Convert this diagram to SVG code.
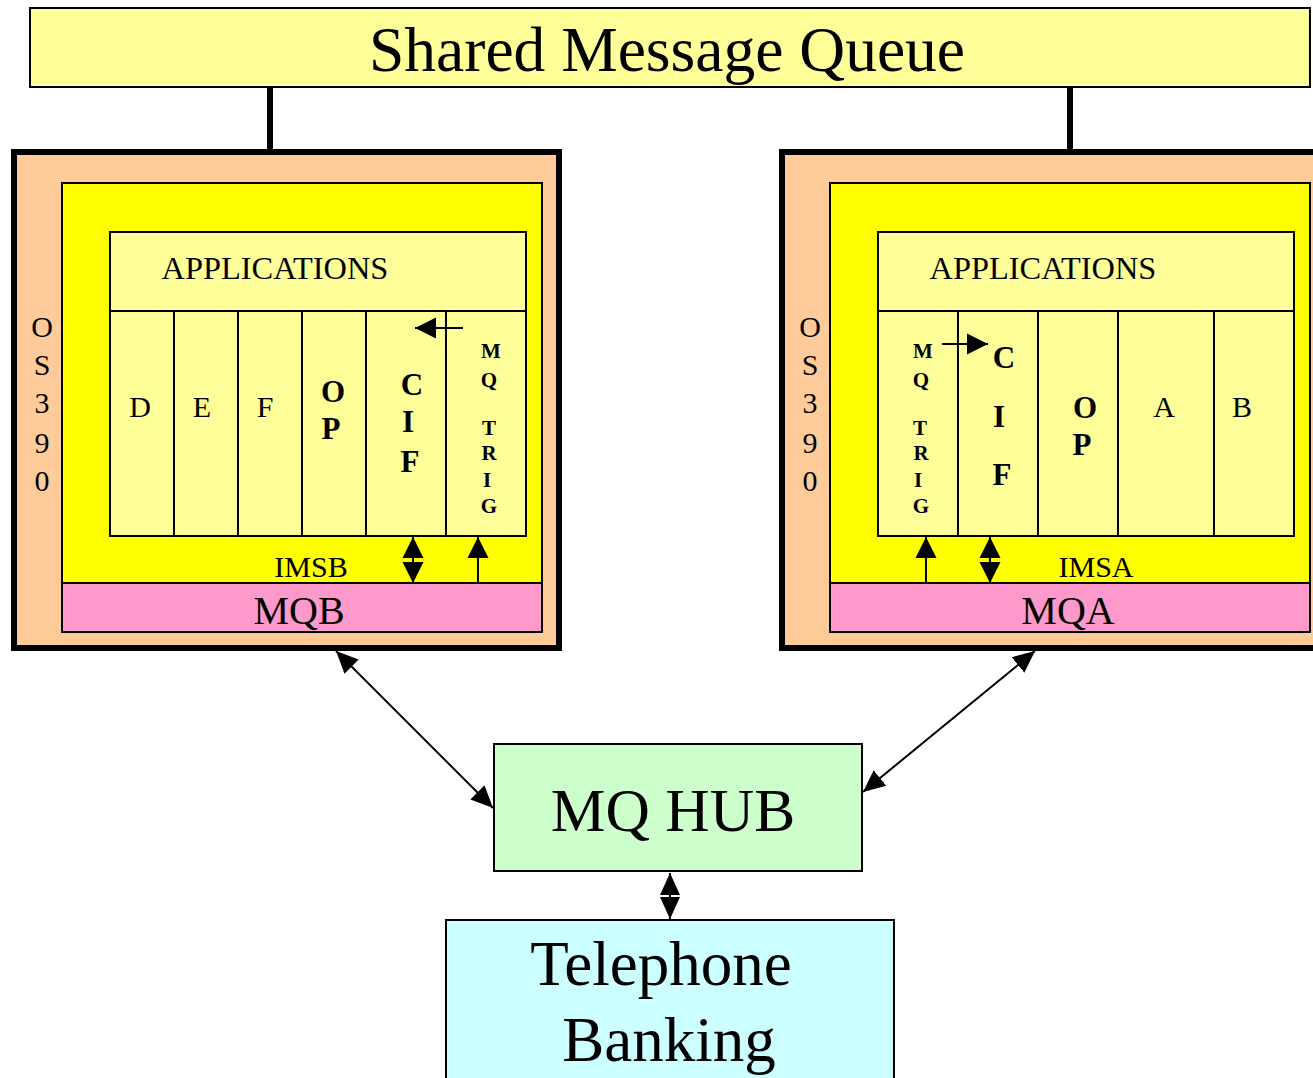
<svg xmlns="http://www.w3.org/2000/svg" width="1313" height="1078" viewBox="0 0 1313 1078">
<style>
text{font-family:"Liberation Serif","Times New Roman",serif;fill:#000;text-anchor:middle}
.thin{stroke:#000;stroke-width:2}
.b{font-weight:bold}
.os{font-size:30px}
.col{font-size:30px}
.big{font-size:31px}
.small{font-size:21px}
</style>
<defs>
<marker id="ah" markerUnits="userSpaceOnUse" markerWidth="24" markerHeight="24" viewBox="0 0 24 24" refX="22" refY="12" orient="auto-start-reverse">
<path d="M0,2 L22,12 L0,22 Z" fill="#000"/>
</marker>
<marker id="as" markerUnits="userSpaceOnUse" markerWidth="22" markerHeight="22" viewBox="0 0 22 22" refX="21" refY="11" orient="auto-start-reverse">
<path d="M0,0.5 L21,11 L0,21.5 Z" fill="#000"/>
</marker>
</defs>

<g id="shared-queue">
<rect x="30" y="8" width="1280" height="79" fill="#FFFF99" class="thin"/>
<text x="667" y="71" font-size="63.5">Shared Message Queue</text>
</g>

<g id="connectors">
<line x1="270" y1="87" x2="270" y2="152" stroke="#000" stroke-width="6"/>
<line x1="1070" y1="87" x2="1070" y2="152" stroke="#000" stroke-width="6"/>
<line x1="336" y1="651" x2="493" y2="808" stroke="#000" stroke-width="2" marker-start="url(#ah)" marker-end="url(#ah)"/>
<line x1="1035" y1="651" x2="863" y2="792" stroke="#000" stroke-width="2" marker-start="url(#ah)" marker-end="url(#ah)"/>
<line x1="670" y1="873" x2="670" y2="919" stroke="#000" stroke-width="2" marker-start="url(#ah)" marker-end="url(#ah)"/>
</g>

<g id="os390-b">
<rect x="14" y="152" width="545" height="496" fill="#FFCC99" stroke="#000" stroke-width="6"/>
<text class="os" x="42" y="337">O</text>
<text class="os" x="42" y="375">S</text>
<text class="os" x="42" y="413">3</text>
<text class="os" x="42" y="453">9</text>
<text class="os" x="42" y="491">0</text>
</g>
<g id="imsb">
<rect x="62" y="183" width="480" height="400" fill="#FFFF00" class="thin"/>
<text x="311" y="577" font-size="30">IMSB</text>
</g>
<g id="apps-b">
<rect x="110" y="232" width="416" height="79" fill="#FFFF99" class="thin"/>
<text x="275" y="279" font-size="32.4">APPLICATIONS</text>
<rect x="110" y="311" width="416" height="225" fill="#FFFF99" class="thin"/>
<line class="thin" x1="174" y1="311" x2="174" y2="536"/>
<line class="thin" x1="238" y1="311" x2="238" y2="536"/>
<line class="thin" x1="302" y1="311" x2="302" y2="536"/>
<line class="thin" x1="366" y1="311" x2="366" y2="536"/>
<line class="thin" x1="446" y1="311" x2="446" y2="536"/>
<text class="col" x="140" y="417">D</text>
<text class="col" x="202" y="417">E</text>
<text class="col" x="265" y="417">F</text>
<text class="big b" x="333" y="402">O</text>
<text class="big b" x="331" y="439">P</text>
<text class="big b" x="412" y="395">C</text>
<text class="big b" x="408" y="432">I</text>
<text class="big b" x="410" y="472">F</text>
<text class="small b" x="491" y="358">M</text>
<text class="small b" x="489" y="387">Q</text>
<text class="small b" x="489" y="435">T</text>
<text class="small b" x="489" y="460">R</text>
<text class="small b" x="487" y="487">I</text>
<text class="small b" x="489" y="513">G</text>
<line x1="463" y1="328" x2="415" y2="328" stroke="#000" stroke-width="2" marker-end="url(#as)"/>
<line x1="413" y1="583" x2="413" y2="537" stroke="#000" stroke-width="2" marker-start="url(#as)" marker-end="url(#as)"/>
<line x1="478" y1="583" x2="478" y2="537" stroke="#000" stroke-width="2" marker-end="url(#as)"/>
</g>
<g id="mqb">
<rect x="62" y="583" width="480" height="49" fill="#FF99CC" class="thin"/>
<text x="299" y="624" font-size="40">MQB</text>
</g>

<g id="os390-a">
<rect x="782" y="152" width="540" height="496" fill="#FFCC99" stroke="#000" stroke-width="6"/>
<text class="os" x="810" y="337">O</text>
<text class="os" x="810" y="375">S</text>
<text class="os" x="810" y="413">3</text>
<text class="os" x="810" y="453">9</text>
<text class="os" x="810" y="491">0</text>
</g>
<g id="imsa">
<rect x="830" y="183" width="480" height="400" fill="#FFFF00" class="thin"/>
<text x="1096" y="577" font-size="30">IMSA</text>
</g>
<g id="apps-a">
<rect x="878" y="232" width="416" height="79" fill="#FFFF99" class="thin"/>
<text x="1043" y="279" font-size="32.4">APPLICATIONS</text>
<rect x="878" y="311" width="416" height="225" fill="#FFFF99" class="thin"/>
<line class="thin" x1="958" y1="311" x2="958" y2="536"/>
<line class="thin" x1="1038" y1="311" x2="1038" y2="536"/>
<line class="thin" x1="1118" y1="311" x2="1118" y2="536"/>
<line class="thin" x1="1214" y1="311" x2="1214" y2="536"/>
<text class="small b" x="923" y="358">M</text>
<text class="small b" x="921" y="387">Q</text>
<text class="small b" x="920" y="435">T</text>
<text class="small b" x="921" y="460">R</text>
<text class="small b" x="918" y="487">I</text>
<text class="small b" x="921" y="513">G</text>
<text class="big b" x="1004" y="368">C</text>
<text class="big b" x="999" y="427">I</text>
<text class="big b" x="1002" y="485">F</text>
<text class="big b" x="1085" y="418">O</text>
<text class="big b" x="1082" y="455">P</text>
<text class="col" x="1164" y="417">A</text>
<text class="col" x="1242" y="417">B</text>
<line x1="942" y1="344" x2="988" y2="344" stroke="#000" stroke-width="2" marker-end="url(#as)"/>
<line x1="926" y1="583" x2="926" y2="537" stroke="#000" stroke-width="2" marker-end="url(#as)"/>
<line x1="990" y1="583" x2="990" y2="537" stroke="#000" stroke-width="2" marker-start="url(#as)" marker-end="url(#as)"/>
</g>
<g id="mqa">
<rect x="830" y="583" width="480" height="49" fill="#FF99CC" class="thin"/>
<text x="1068" y="624" font-size="40">MQA</text>
</g>

<g id="mq-hub">
<rect x="494" y="744" width="368" height="127" fill="#CCFFCC" class="thin"/>
<text x="673" y="831" font-size="61.5">MQ HUB</text>
</g>
<g id="telephone-banking">
<rect x="446" y="920" width="448" height="170" fill="#CCFFFF" class="thin"/>
<text x="661" y="985" font-size="63">Telephone</text>
<text x="669" y="1061" font-size="63">Banking</text>
</g>
</svg>
